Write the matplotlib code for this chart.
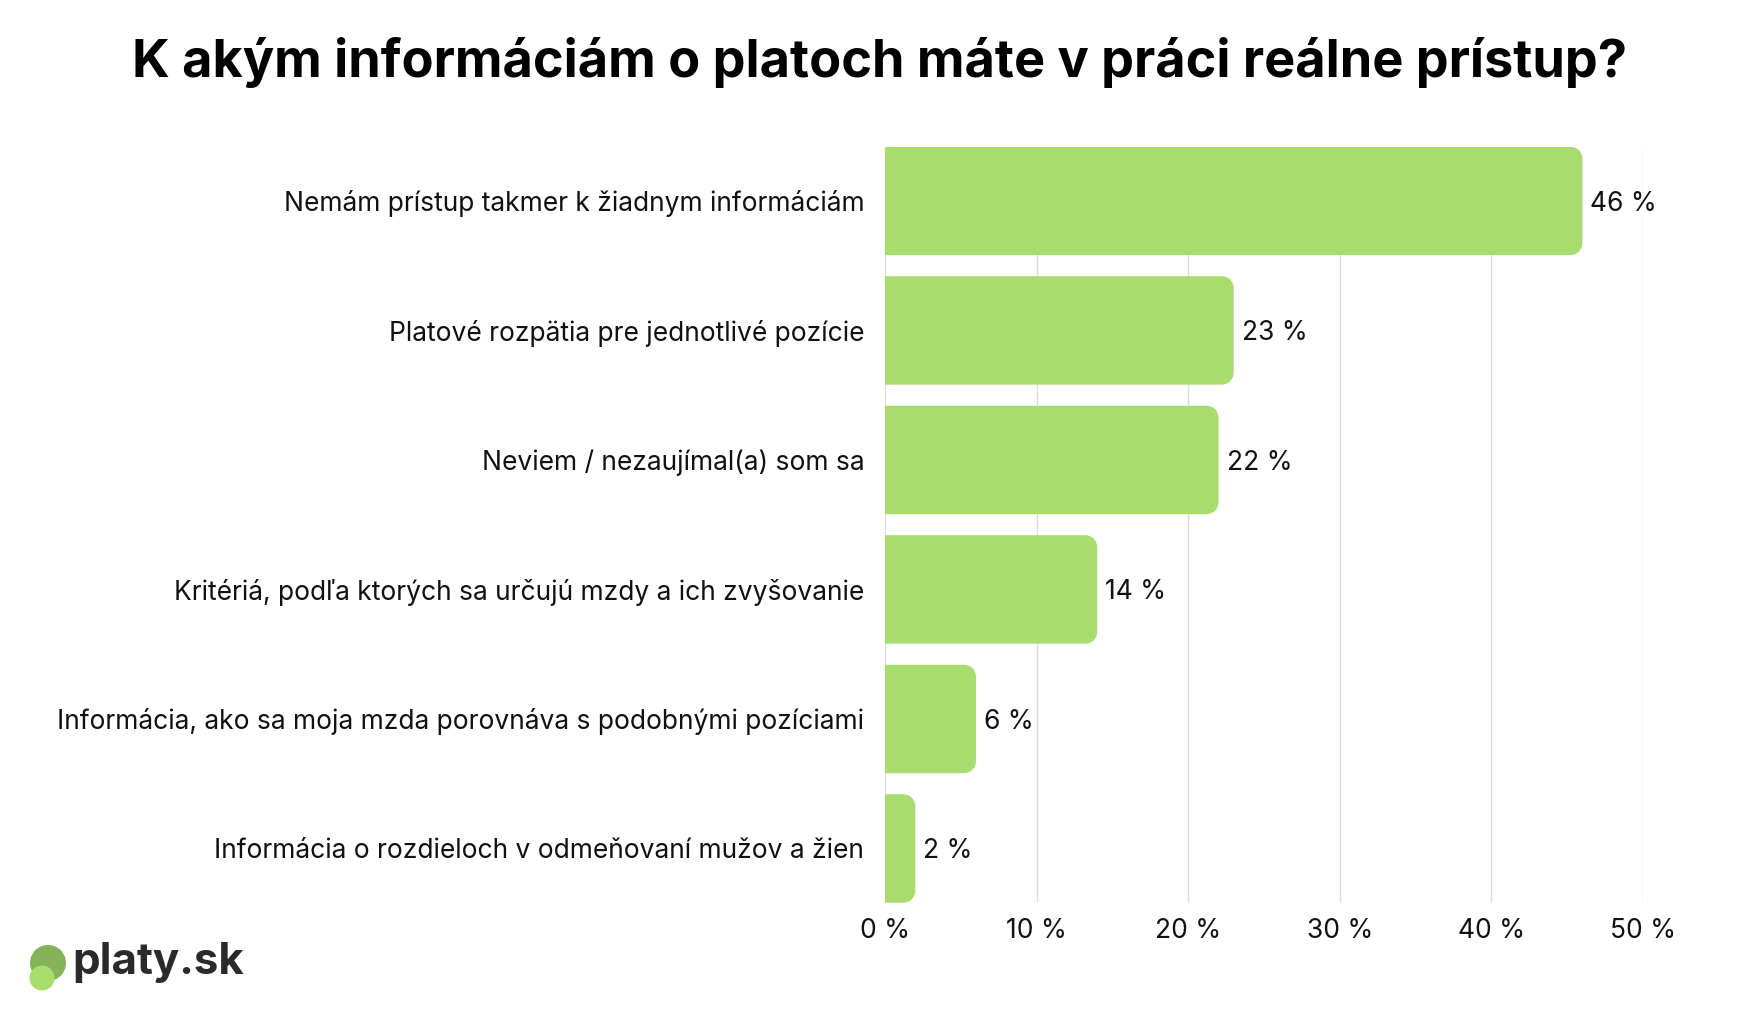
import matplotlib
matplotlib.use("Agg")
import matplotlib.pyplot as plt
from matplotlib.patches import PathPatch, Circle
from matplotlib.path import Path
from matplotlib.transforms import IdentityTransform

plt.rcParams['font.family'] = ['Inter', 'DejaVu Sans']

# data
categories = [
    "Nemám prístup takmer k žiadnym informáciám",
    "Platové rozpätia pre jednotlivé pozície",
    "Neviem / nezaujímal(a) som sa",
    "Kritériá, podľa ktorých sa určujú mzdy a ich zvyšovanie",
    "Informácia, ako sa moja mzda porovnáva s podobnými pozíciami",
    "Informácia o rozdieloch v odmeňovaní mužov a žien",
]
values = [46, 23, 22, 14, 6, 2]
ticks = [0, 10, 20, 30, 40, 50]
tick_labels = ["0 %", "10 %", "20 %", "30 %", "40 %", "50 %"]

green = "#a8dc6c"
bar_h = 0.837
W, H = 1748, 1028
ax_l, ax_r, ax_t, ax_b = 885, 1643, 146.7, 902.7

fig = plt.figure(figsize=(W/100, H/100), dpi=100)
ax = fig.add_axes([ax_l/W, 1 - ax_b/H, (ax_r-ax_l)/W, (ax_b-ax_t)/H])

ax.set_xlim(0, 50)
ax.set_ylim(len(categories) - 1 + bar_h/2, -bar_h/2)

# corner radius ~12 px, converted to data units for each direction
px_x = 50 / (ax_r - ax_l)
px_y = (len(categories) - 1 + bar_h) / (ax_b - ax_t)
rx, ry = 12 * px_x, 12 * px_y
k = 0.5523


def right_rounded_bar(v, y0, h):
    rxx = min(rx, v / 2)
    y1 = y0 + h
    verts = [(0, y0), (v - rxx, y0),
             (v - rxx + k*rxx, y0), (v, y0 + ry - k*ry), (v, y0 + ry),
             (v, y1 - ry),
             (v, y1 - ry + k*ry), (v - rxx + k*rxx, y1), (v - rxx, y1),
             (0, y1), (0, y0)]
    codes = [Path.MOVETO, Path.LINETO,
             Path.CURVE4, Path.CURVE4, Path.CURVE4,
             Path.LINETO,
             Path.CURVE4, Path.CURVE4, Path.CURVE4,
             Path.LINETO, Path.CLOSEPOLY]
    return Path(verts, codes)


for i, v in enumerate(values):
    ax.add_patch(PathPatch(right_rounded_bar(v, i - bar_h/2, bar_h),
                           fc=green, ec="none", zorder=3))
    ax.text(v + 8*px_x, i, f"{v} %", va="center_baseline", ha="left",
            fontsize=19, color="#111111")

ax.set_yticks(range(len(categories)))
ax.set_yticklabels(categories, fontsize=19, color="#111111")
ax.set_xticks(ticks)
ax.set_xticklabels(tick_labels, fontsize=19, color="#111111")
ax.tick_params(axis="y", length=0, pad=15)
ax.tick_params(axis="x", length=0, pad=11)
ax.grid(axis="x", color="#dddddd", linewidth=1, zorder=0)
ax.set_axisbelow(True)
for s in ax.spines.values():
    s.set_visible(False)

fig.text(880/W, 1 - 63/H, "K akým informáciám o platoch máte v práci reálne prístup?",
         ha="center", va="center", fontsize=37.6, fontweight="bold", color="#000000")

# logo (pixel coordinates, origin bottom-left)
fig.patches.append(Circle((48, H - 963), 18, transform=IdentityTransform(),
                          fc="#86b25a", ec="none"))
fig.patches.append(Circle((42, H - 978), 12.5, transform=IdentityTransform(),
                          fc="#a8dc6c", ec="none"))
fig.text(72/W, 1 - 974/H, "platy.sk", ha="left", va="baseline",
         fontsize=31.5, fontweight="bold", color="#2a2a2a")

fig.savefig("out.png", dpi=100)
